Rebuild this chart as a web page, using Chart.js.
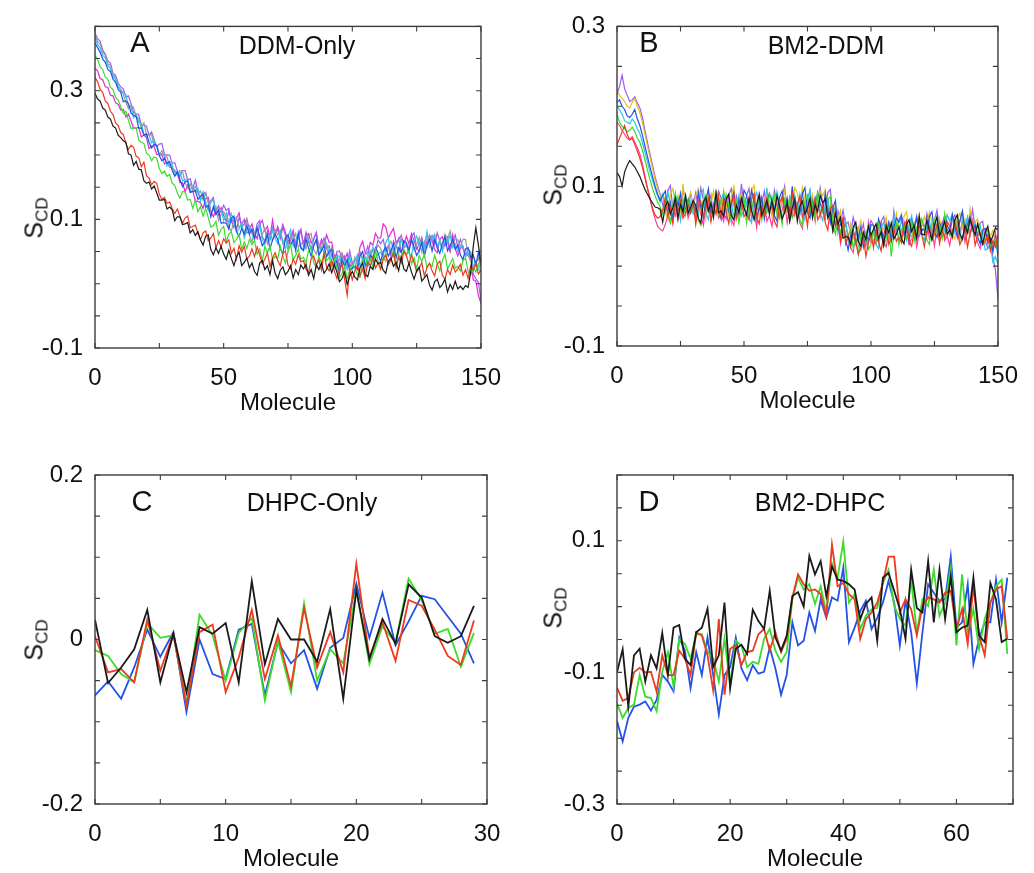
<!DOCTYPE html>
<html>
<head>
<meta charset="utf-8">
<script src="https://cdn.jsdelivr.net/npm/chart.js@4.4.1/dist/chart.umd.min.js"></script>
<style>
html,body{margin:0;padding:0;background:#fff;}
body{width:1034px;height:873px;position:relative;overflow:hidden;font-family:"Liberation Sans",Arial,Helvetica,sans-serif;color:#111;}
canvas{position:absolute;}
.t{position:absolute;transform:translate(-50%,-50%);white-space:nowrap;line-height:1;}
.let{font-size:29px;}
.nm{font-size:25px;}
.yl{position:absolute;transform:translate(-50%,-50%) rotate(-90deg);font-size:25px;white-space:nowrap;line-height:1;}
.yl sub{font-size:17px;vertical-align:-0.3em;}
</style>
</head>
<body>
<canvas id="cA" width="517" height="437" style="left:0px;top:0px"></canvas>
<canvas id="cB" width="517" height="437" style="left:517px;top:0px"></canvas>
<canvas id="cC" width="517" height="437" style="left:0px;top:437px"></canvas>
<canvas id="cD" width="517" height="437" style="left:517px;top:437px"></canvas>

<div class="t let" style="left:140px;top:42px">A</div>
<div class="t nm" style="left:297px;top:45px">DDM-Only</div>
<div class="t let" style="left:649px;top:42px">B</div>
<div class="t nm" style="left:826px;top:45px">BM2-DDM</div>
<div class="t let" style="left:142px;top:501px">C</div>
<div class="t nm" style="left:312px;top:502px">DHPC-Only</div>
<div class="t let" style="left:649px;top:501px">D</div>
<div class="t nm" style="left:820px;top:502px">BM2-DHPC</div>

<div class="yl" style="left:36px;top:218px">S<sub>CD</sub></div>
<div class="yl" style="left:555px;top:185px">S<sub>CD</sub></div>
<div class="yl" style="left:36px;top:640px">S<sub>CD</sub></div>
<div class="yl" style="left:555px;top:608px">S<sub>CD</sub></div>

<script>
// ---------------- Panel A: DDM-Only (molecule index 0..150) ----------------
const A_BLACK=[.296,.287,.284,.273,.27,.259,.256,.245,.242,.231,.227,
.222,.22,.202,.2,.184,.19,.178,.177,.16,.156,
.158,.147,.152,.141,.13,.13,.131,.116,.119,.115,
.098,.104,.104,.092,.093,.095,.079,.084,.075,.081,
.068,.06,.074,.076,.053,.045,.056,.047,.058,.046,
.038,.052,.039,.028,.042,.049,.028,.033,.04,.025,
.032,.019,.013,.032,.036,.022,.028,.014,.036,.016,
.008,.021,.026,.014,.019,.028,.009,.022,.014,.029,
.023,.03,.013,.022,.008,.029,.022,.032,.016,.022,
.031,.017,.03,.018,.003,.008,.018,-.001,.012,.019,
.01,.006,.025,.032,.014,.011,.027,.022,.038,.031,
.033,.021,.016,.035,.04,.027,.033,.02,.042,.023,
.019,.032,.018,.007,.02,.026,.004,.009,.014,-.002,
-.01,.003,.007,-.006,-.001,.007,-.013,-.001,-.009,.004,
-.008,-.004,-.009,-.003,-.006,.018,.058,.087,.06,.032];
const A_RED=[.321,.314,.302,.297,.284,.28,.268,.263,.25,.246,.235,
.232,.218,.209,.215,.212,.198,.196,.182,.189,.168,
.164,.154,.159,.156,.139,.131,.134,.125,.127,.117,
.109,.116,.105,.094,.102,.105,.087,.089,.091,.078,
.068,.079,.082,.067,.071,.078,.056,.067,.057,.07,
.063,.068,.047,.055,.038,.059,.049,.058,.038,.043,
.054,.042,.057,.045,.031,.038,.048,.027,.04,.048,
.036,.028,.047,.051,.029,.023,.038,.03,.045,.034,
.036,.022,.017,.039,.043,.029,.037,.021,.047,.026,
.02,.036,.02,.008,.021,.03,.007,-.018,.022,.006,
.02,.029,.012,.023,.008,.034,.028,.042,.024,.032,
.022,.038,.044,.03,.037,.048,.025,.041,.032,.05,
.044,.03,.045,.033,.018,.024,.033,.012,.025,.032,
.02,.012,.031,.035,.013,.007,.022,.014,.029,.018,
.023,.03,.013,.022,.008,.028,.021,.032,.015,.021];
const A_GREEN=[.355,.349,.337,.333,.321,.318,.305,.302,.29,.286,.275,
.265,.268,.254,.241,.243,.242,.223,.22,.218,.203,
.2,.191,.197,.195,.179,.171,.175,.167,.17,.156,
.153,.141,.133,.143,.143,.13,.131,.117,.13,.112,
.12,.105,.117,.103,.088,.09,.097,.075,.085,.089,
.065,.077,.081,.064,.069,.077,.053,.065,.055,.069,
.061,.067,.046,.054,.035,.058,.048,.059,.037,.042,
.039,.058,.043,.032,.05,.061,.037,.044,.054,.038,
.041,.032,.052,.057,.032,.026,.042,.032,.048,.036,
.041,.026,.039,.025,.009,.016,.027,.007,.021,.03,
.025,.014,.01,.034,.041,.029,.039,.025,.053,.034,
.024,.04,.046,.032,.039,.051,.028,.045,.036,.054,
.045,.051,.031,.04,.023,.044,.035,.045,.026,.031,
.027,.044,.031,.02,.036,.046,.023,.031,.039,.024,
.027,.02,.036,.04,.019,.013,.026,.018,.031,.021];
const A_BLUE=[.374,.367,.36,.349,.344,.333,.33,.318,.313,.302,.298,
.283,.284,.28,.265,.262,.26,.242,.242,.231,.233,
.22,.211,.217,.215,.199,.191,.195,.187,.19,.176,
.167,.174,.162,.151,.158,.16,.142,.143,.145,.131,
.136,.139,.118,.122,.104,.12,.108,.115,.094,.095,
.094,.085,.102,.105,.081,.073,.086,.077,.09,.077,
.085,.07,.087,.074,.059,.065,.076,.054,.068,.077,
.069,.054,.047,.071,.076,.06,.068,.051,.079,.055,
.052,.07,.055,.043,.059,.069,.044,.051,.059,.042,
.05,.053,.03,.036,.016,.037,.028,.038,.019,.024,
.027,.022,.043,.05,.03,.027,.044,.039,.056,.048,
.034,.05,.057,.043,.051,.062,.04,.056,.048,.067,
.064,.05,.069,.057,.044,.051,.064,.043,.059,.069,
.051,.069,.056,.047,.063,.073,.051,.059,.069,.054,
.06,.045,.037,.054,.056,.041,.045,.029,.049,.027];
const A_CYAN=[.381,.372,.367,.355,.351,.339,.335,.322,.318,.306,.302,
.297,.294,.276,.274,.258,.263,.251,.25,.233,.229,
.231,.219,.223,.212,.2,.199,.2,.183,.186,.185,
.168,.173,.173,.16,.161,.163,.146,.151,.142,.148,
.13,.143,.127,.114,.126,.131,.107,.11,.115,.098,
.11,.095,.109,.096,.08,.085,.094,.071,.083,.09,
.077,.068,.088,.093,.068,.061,.077,.067,.083,.071,
.062,.082,.066,.054,.073,.084,.058,.066,.076,.058,
.051,.064,.069,.053,.059,.067,.045,.057,.049,.063,
.049,.034,.025,.042,.043,.029,.035,.022,.044,.024,
.036,.045,.027,.039,.023,.049,.042,.057,.038,.046,
.049,.042,.064,.071,.047,.042,.06,.052,.069,.059,
.063,.048,.043,.067,.074,.059,.068,.052,.081,.058,
.069,.075,.056,.066,.05,.072,.063,.075,.056,.062,
.049,.058,.059,.043,.045,.049,.026,.035,.023,.018];
const A_GRAY=[.386,.376,.373,.36,.355,.342,.339,.325,.321,.307,.301,
.295,.282,.272,.278,.274,.259,.257,.242,.25,.232,
.232,.231,.215,.214,.2,.207,.197,.197,.182,.18,
.177,.168,.176,.175,.157,.149,.155,.145,.151,.141,
.144,.13,.141,.127,.112,.114,.12,.098,.108,.112,
.104,.088,.081,.101,.103,.087,.093,.075,.099,.076,
.065,.08,.085,.07,.076,.086,.062,.077,.067,.084,
.076,.082,.062,.071,.052,.076,.067,.078,.057,.062,
.063,.054,.074,.078,.053,.046,.062,.052,.067,.055,
.043,.057,.04,.026,.038,.047,.024,.032,.04,.024,
.041,.031,.049,.04,.029,.038,.051,.033,.049,.06,
.055,.04,.035,.059,.066,.052,.06,.045,.073,.051,
.043,.059,.066,.052,.06,.072,.049,.066,.057,.076,
.069,.077,.058,.068,.052,.077,.069,.082,.062,.07,
.068,.057,.069,.069,.044,.034,.043,.031,.04,.026];
const A_PURPLE=[.390,.381,.377,.363,.357,.346,.343,.327,.324,.312,.306,
.303,.290,.292,.280,.266,.264,.263,.246,.247,.245,
.231,.236,.224,.213,.217,.218,.201,.2,.2,.187,
.188,.175,.167,.176,.176,.162,.163,.148,.161,.142,
.130,.140,.142,.126,.129,.134,.112,.121,.111,.122,
.114,.117,.096,.102,.084,.103,.092,.1,.079,.082,
.082,.073,.093,.098,.073,.066,.082,.072,.088,.076,
.085,.07,.088,.075,.061,.067,.079,.057,.072,.081,
.062,.08,.065,.053,.07,.08,.055,.062,.071,.054,
.059,.043,.034,.05,.051,.037,.043,.029,.051,.031,
.024,.041,.049,.037,.046,.058,.039,.055,.05,.068,
.062,.069,.05,.059,.042,.066,.058,.07,.05,.056,
.059,.051,.073,.079,.056,.05,.068,.059,.077,.066,
.075,.061,.079,.067,.053,.06,.072,.051,.066,.076,
.056,.069,.054,.042,.054,.049,.015,.008,.002,-.025];
const A_MAGENTA=[.335,.331,.319,.317,.306,.305,.293,.292,.281,.279,.27,
.271,.259,.264,.253,.242,.242,.243,.228,.231,.227,
.21,.214,.213,.201,.201,.202,.186,.189,.181,.181,
.174,.173,.157,.157,.143,.153,.142,.145,.128,.128,
.126,.117,.132,.134,.112,.104,.116,.106,.118,.106,
.097,.113,.099,.087,.102,.11,.087,.093,.101,.084,
.093,.077,.07,.093,.098,.082,.089,.072,.099,.075,
.089,.075,.092,.08,.065,.071,.083,.061,.076,.085,
.059,.074,.078,.063,.069,.079,.055,.069,.059,.076,
.064,.065,.042,.046,.026,.047,.037,.047,.027,.032,
.037,.034,.057,.066,.048,.046,.064,.06,.078,.071,
.071,.093,.088,.071,.079,.086,.064,.069,.075,.06,
.074,.062,.078,.067,.054,.061,.072,.052,.066,.075,
.067,.053,.048,.069,.073,.059,.066,.05,.076,.054,
.043,.055,.057,.043,.046,.04,.006,.004,-.018,-.031];

// ---------------- Panel B: BM2-DDM (molecule index 0..150) ----------------
const B_PURPLE=[.215,.225,.239,.222,.214,.206,.208,.212,.204,.198,.186,.17,.155,.14,.126,.112,.1,.09,
.077,.068,.094,.101,.071,.063,.085,.074,.095,.082,.072,.091,.076,
.092,.075,.098,.083,.065,.074,.089,.062,.082,.094,
.085,.066,.059,.089,.097,.077,.088,.068,.103,.074,
.088,.097,.071,.083,.06,.091,.078,.094,.068,.075,
.071,.095,.077,.063,.086,.1,.069,.08,.092,.072,
.062,.083,.091,.072,.082,.095,.066,.086,.075,.098,
.077,.068,.092,.096,.063,.051,.069,.054,.07,.052,
.055,.041,.061,.048,.032,.04,.053,.029,.046,.057,
.051,.035,.03,.056,.062,.046,.055,.038,.069,.045,
.058,.065,.043,.054,.034,.06,.05,.063,.041,.047,
.045,.066,.05,.039,.058,.07,.044,.053,.063,.046,
.039,.058,.064,.048,.056,.068,.043,.06,.051,.071,
.048,.04,.054,.056,.032,.022,.028,.011,-.005,-.041];
const B_YELLOW=[.219,.214,.21,.206,.2,.198,.205,.21,.2,.192,.18,.165,.15,.136,.122,.108,.097,.088,
.09,.066,.059,.089,.097,.077,.088,.068,.103,.074,.083,.092,.073,
.088,.097,.071,.083,.06,.091,.078,.094,.068,.075,
.071,.095,.077,.063,.086,.1,.069,.08,.092,.072,
.077,.068,.094,.101,.071,.063,.085,.074,.095,.082,
.062,.083,.091,.072,.082,.095,.066,.086,.075,.098,
.092,.075,.098,.083,.065,.074,.089,.062,.082,.094,
.088,.096,.068,.077,.05,.077,.059,.07,.038,.04,
.032,.053,.037,.026,.045,.057,.031,.04,.05,.033,
.029,.049,.055,.04,.048,.061,.036,.054,.046,.066,
.047,.04,.062,.068,.042,.036,.054,.045,.063,.051,
.062,.048,.068,.055,.039,.047,.06,.036,.053,.064,
.056,.04,.034,.06,.066,.049,.059,.042,.072,.047,
.055,.059,.04,.046,.029,.047,.037,.045,.025,.028];
const B_BLUE=[.205,.208,.2,.196,.188,.186,.19,.196,.184,.176,.164,.15,.137,.124,.112,.1,.09,.082,
.088,.094,.068,.08,.057,.088,.075,.091,.065,.072,.083,.067,.081,
.068,.092,.074,.06,.083,.097,.066,.077,.089,.069,
.059,.08,.088,.069,.079,.092,.063,.083,.072,.095,
.089,.072,.095,.08,.062,.071,.086,.059,.079,.091,
.082,.063,.056,.086,.094,.074,.085,.065,.1,.071,
.074,.065,.091,.098,.068,.06,.082,.071,.092,.079,
.068,.091,.071,.054,.073,.082,.046,.052,.059,.034,
.02,.039,.045,.029,.037,.049,.024,.041,.032,.052,
.051,.038,.059,.047,.032,.04,.054,.031,.048,.06,
.055,.062,.04,.051,.031,.057,.047,.06,.038,.044,
.047,.04,.062,.068,.042,.036,.054,.045,.063,.051,
.044,.065,.049,.038,.057,.069,.043,.052,.062,.045,
.051,.036,.028,.045,.047,.031,.035,.018,.036,.012];
const B_CYAN=[.2,.196,.19,.182,.18,.178,.184,.18,.172,.166,.155,.142,.13,.118,.107,.097,.088,.08,
.09,.07,.093,.078,.06,.069,.084,.057,.077,.089,.068,.08,.065,
.072,.063,.089,.096,.066,.058,.08,.069,.09,.077,
.083,.092,.066,.078,.055,.086,.073,.089,.063,.07,
.08,.061,.054,.084,.092,.072,.083,.063,.098,.069,
.087,.07,.093,.078,.06,.069,.084,.057,.077,.089,
.066,.09,.072,.058,.081,.095,.064,.075,.087,.067,
.057,.077,.083,.061,.067,.075,.041,.056,.04,.058,
.031,.024,.046,.052,.026,.02,.038,.029,.047,.035,
.042,.027,.022,.048,.055,.039,.05,.034,.064,.04,
.038,.059,.043,.032,.051,.063,.037,.046,.056,.039,
.032,.051,.057,.041,.049,.061,.036,.053,.044,.064,
.057,.064,.042,.053,.033,.059,.049,.062,.04,.046,
.054,.039,.05,.036,.02,.022,.028,.005,.012,.002];
const B_GREEN=[.19,.18,.175,.172,.168,.17,.174,.168,.16,.155,.145,.133,.12,.108,.097,.088,.08,.074,
.065,.087,.069,.055,.078,.092,.061,.072,.084,.064,.081,.067,.075,
.077,.058,.051,.081,.089,.069,.08,.06,.095,.066,
.084,.067,.09,.075,.057,.066,.081,.054,.074,.086,
.054,.075,.083,.064,.074,.087,.058,.078,.067,.09,
.08,.089,.063,.075,.052,.083,.07,.086,.06,.067,
.077,.058,.051,.081,.089,.069,.08,.06,.095,.066,
.069,.059,.083,.087,.053,.04,.057,.041,.057,.039,
.038,.045,.023,.034,.014,.04,.03,.043,.021,.027,
.045,.032,.053,.04,.025,.034,.048,.012,.042,.054,
.027,.046,.052,.036,.044,.056,.031,.048,.039,.059,
.049,.033,.027,.053,.059,.042,.052,.035,.065,.04,
.043,.036,.058,.064,.038,.032,.05,.041,.059,.047,
.038,.052,.038,.027,.04,.046,.024,.028,.034,.018];
const B_PINK=[.18,.176,.17,.165,.16,.158,.162,.155,.148,.14,.128,.113,.098,.084,.07,.059,.05,.046,
.044,.052,.063,.054,.065,.078,.057,.073,.064,.082,.06,.071,.077,
.059,.083,.065,.051,.074,.088,.057,.068,.08,.06,
.065,.056,.082,.089,.059,.051,.073,.062,.083,.07,
.076,.085,.059,.071,.048,.079,.066,.082,.056,.063,
.05,.071,.079,.06,.07,.083,.054,.074,.063,.086,
.073,.054,.047,.077,.085,.065,.076,.056,.091,.062,
.08,.061,.082,.064,.043,.048,.059,.028,.044,.052,
.039,.023,.017,.043,.049,.032,.042,.025,.055,.03,
.033,.027,.049,.055,.03,.024,.042,.034,.053,.041,
.05,.036,.056,.043,.027,.035,.048,.024,.041,.052,
.049,.056,.034,.045,.025,.051,.041,.054,.032,.038,
.026,.045,.051,.035,.043,.055,.03,.047,.038,.058,
.043,.029,.022,.04,.043,.028,.034,.02,.042,.021];
const B_RED=[.152,.16,.168,.176,.165,.158,.16,.152,.144,.135,.124,.11,.097,.085,.072,.064,.06,.062,
.071,.084,.062,.073,.053,.079,.069,.082,.06,.066,.076,.067,.081,
.052,.073,.081,.062,.072,.085,.056,.076,.065,.088,
.061,.085,.067,.053,.076,.09,.059,.07,.082,.062,
.067,.058,.084,.091,.061,.053,.075,.064,.085,.072,
.075,.056,.049,.079,.087,.067,.078,.058,.093,.064,
.078,.087,.061,.073,.05,.081,.068,.084,.058,.065,
.075,.054,.045,.072,.076,.051,.057,.032,.062,.028,
.038,.024,.044,.031,.015,.023,.036,.012,.029,.04,
.023,.045,.03,.019,.039,.052,.027,.036,.047,.031,
.036,.029,.051,.057,.031,.025,.043,.034,.052,.04,
.024,.043,.049,.033,.041,.053,.028,.045,.036,.056,
.05,.036,.056,.043,.027,.035,.048,.024,.041,.052,
.026,.038,.041,.027,.031,.039,.019,.032,.024,.039];
const B_BLACK=[.117,.112,.1,.118,.126,.132,.128,.124,.118,.112,.104,.096,.09,.084,.079,.074,.073,.071,
.055,.075,.081,.065,.073,.085,.06,.077,.068,.088,.066,.074,.082,
.076,.06,.054,.08,.086,.069,.079,.062,.092,.067,
.069,.062,.084,.09,.064,.058,.076,.067,.085,.073,
.064,.085,.069,.058,.077,.089,.063,.072,.082,.065,
.082,.068,.088,.075,.059,.067,.08,.056,.073,.084,
.056,.075,.081,.065,.073,.085,.06,.077,.068,.088,
.079,.084,.06,.068,.044,.066,.052,.061,.035,.037,
.036,.028,.049,.055,.031,.025,.042,.033,.05,.039,
.046,.053,.034,.043,.026,.05,.042,.054,.034,.04,
.049,.034,.028,.052,.058,.043,.051,.035,.063,.04,
.039,.058,.044,.033,.051,.062,.038,.046,.056,.04,
.045,.037,.058,.064,.04,.034,.051,.042,.059,.048,
.039,.053,.039,.028,.042,.05,.03,.038,.048,.045];

// ---------------- Panel C: DHPC-Only (molecule index 0..29) ----------------
const C_BLACK=[.024,-.053,-.034,-.012,.036,-.052,.007,-.064,.015,.007,.02,-.052,.071,-.03,.025,0,0,-.027,.037,-.072,.06,-.024,.025,-.005,.067,.051,.004,-.004,.004,.041];
const C_RED=[.004,-.04,-.036,-.052,.024,-.038,.007,-.08,.009,.018,-.064,-.022,.036,-.048,.005,-.057,.038,-.034,.009,-.04,.092,-.022,.021,-.026,.048,.041,.012,-.02,-.031,.023];
const C_GREEN=[-.013,-.02,-.042,-.052,.02,.002,.005,-.078,.03,.005,-.05,.008,.026,-.074,-.002,-.064,.044,-.05,-.012,-.029,.06,-.03,.016,-.004,.074,.048,.007,.013,-.033,.008];
const C_BLUE=[-.068,-.051,-.072,-.034,.012,-.021,.009,-.088,0,-.042,-.048,.012,.019,-.068,-.003,-.029,-.013,-.06,-.01,.002,.068,.002,.057,-.007,.022,.053,.049,.028,.007,-.029];

// ---------------- Panel D: BM2-DHPC (molecule index 0..69) ----------------
const D_BLACK=[-.1,-.065,-.152,-.074,-.064,-.114,-.074,-.094,-.04,-.104,
-.032,-.028,-.079,-.089,-.039,-.032,-.003,-.092,-.074,.006,
-.124,-.064,-.058,-.072,-.005,-.022,-.034,.024,-.047,-.067,
-.044,.016,.022,0,.077,.049,.069,.016,.061,.041,
.039,.034,.026,-.019,.004,.014,-.052,.044,.051,.024,
-.004,-.049,.056,-.002,-.009,.069,-.024,.056,-.019,.046,
-.039,-.032,-.029,.044,-.044,-.054,.036,.011,-.054,-.049];
const D_RED=[-.123,-.143,-.139,-.1,-.093,-.1,-.099,-.129,-.074,-.104,
-.104,-.067,-.079,-.104,-.039,-.044,-.074,-.127,-.019,-.134,
-.064,-.059,-.089,-.069,-.067,-.042,-.034,-.067,-.039,-.069,
-.049,.014,.049,.034,.024,.026,.019,-.014,.094,.031,
.036,.019,.011,-.049,-.019,-.009,.006,.036,.076,.076,
-.009,.011,-.004,-.044,.001,.014,.011,.006,.021,.024,
-.034,-.004,-.057,.031,-.044,-.074,.006,.026,.031,-.049];
const D_GREEN=[-.147,-.169,-.154,-.149,-.104,-.137,-.139,-.159,-.099,-.069,
-.122,-.049,-.057,-.079,-.042,-.042,-.069,-.079,-.114,-.049,
-.119,-.052,-.059,-.092,-.084,-.087,-.049,-.034,-.067,-.084,
-.069,.011,.044,.026,.034,.004,.031,-.009,.066,.044,
.099,.006,.019,-.034,-.014,-.004,-.002,.036,.056,.001,
-.019,-.029,.041,-.039,.011,.001,.056,-.014,.006,.059,
-.059,.049,-.044,-.004,-.064,-.019,.006,.031,.041,-.072];
const D_BLUE=[-.174,-.205,-.169,-.152,-.149,-.144,-.158,-.142,-.104,-.114,
-.129,-.047,-.067,-.124,-.069,-.104,-.047,-.104,-.164,-.104,
-.092,-.047,-.094,-.112,-.089,-.102,-.099,-.062,-.094,-.134,
-.104,-.024,-.059,-.052,-.009,-.037,.011,-.017,.014,.009,
.059,-.054,-.032,-.007,.009,-.034,-.017,.006,.039,.006,
-.059,.009,-.039,-.117,-.039,.034,.021,.009,.011,.076,
-.032,-.024,.034,-.087,-.049,-.024,-.024,.041,-.024,.044];

// ---------------- Tick labels ----------------
const A_XLABELS=[0,50,100,150], A_YLABELS=[-0.1,0.1,0.3];
const B_XLABELS=[0,50,100,150], B_YLABELS=[-0.1,0.1,0.3];
const C_XLABELS=[0,10,20,30],  C_YLABELS=[-0.2,0,0.2];
const D_XLABELS=[0,20,40,60],  D_YLABELS=[-0.3,-0.1,0.1];
const X_TITLE='Molecule';

const COL={black:'#1a1a1a',red:'#ee3a1e',green:'#3bdc2c',blue:'#2452e6',cyan:'#2cc6ea',
  magenta:'#e22ad8',purple:'#9d5cf0',gray:'#9a9a9a',yellow:'#e2c21c',pink:'#ff3d9c'};

const FONT='"Liberation Sans", Arial, sans-serif';

const framePlugin={
  id:'frame',
  afterDatasetsDraw(chart){
    const {ctx,chartArea:a,scales:{x,y}}=chart;
    ctx.save();
    ctx.strokeStyle='#3c3c3c';ctx.lineWidth=1.4;
    ctx.strokeRect(a.left,a.top,a.right-a.left,a.bottom-a.top);
    ctx.lineWidth=1.1;ctx.beginPath();
    x.ticks.forEach(t=>{const p=x.getPixelForValue(t.value);
      ctx.moveTo(p,a.bottom);ctx.lineTo(p,a.bottom-5);ctx.moveTo(p,a.top);ctx.lineTo(p,a.top+5);});
    y.ticks.forEach(t=>{const p=y.getPixelForValue(t.value);
      ctx.moveTo(a.left,p);ctx.lineTo(a.left+5,p);ctx.moveTo(a.right,p);ctx.lineTo(a.right-5,p);});
    ctx.stroke();ctx.restore();
  }
};

function labelCb(list){
  return function(v){const m=list.find(l=>Math.abs(l-v)<1e-6);return m===undefined?'':String(m);};
}

function makeChart(id,series,g){
  new Chart(document.getElementById(id),{
    type:'line',
    data:{datasets:series.map(s=>({
      data:s[0].map((v,i)=>({x:i,y:v})),
      borderColor:s[1],borderWidth:g.lw,pointRadius:0,tension:0,fill:false}))},
    options:{
      responsive:false,animation:false,devicePixelRatio:1,events:[],
      layout:{padding:g.pad},
      plugins:{legend:{display:false},tooltip:{enabled:false}},
      scales:{
        x:{type:'linear',min:g.x[0],max:g.x[1],
          grid:{display:false,drawTicks:false},border:{display:false},
          ticks:{stepSize:g.x[2],autoSkip:false,maxRotation:0,padding:16,color:'#111',
            font:{family:FONT,size:24},callback:labelCb(g.xl)},
          title:{display:true,text:X_TITLE,color:'#111',font:{family:FONT,size:24},padding:{top:0,bottom:0}},
          afterFit:s=>{s.height=70;}},
        y:{type:'linear',min:g.y[0],max:g.y[1],
          grid:{display:false,drawTicks:false},border:{display:false},
          ticks:{stepSize:g.y[2],autoSkip:false,padding:12,color:'#111',
            font:{family:FONT,size:24},callback:labelCb(g.yl)},
          afterFit:s=>{s.width=60;}}
      }
    },
    plugins:[framePlugin]
  });
}

makeChart('cA',[[A_BLACK,COL.black],[A_RED,COL.red],[A_GREEN,COL.green],[A_BLUE,COL.blue],
  [A_CYAN,COL.cyan],[A_GRAY,COL.gray],[A_PURPLE,COL.purple],[A_MAGENTA,COL.magenta]],
  {lw:1.2,pad:{left:35,right:28,top:20,bottom:19},x:[0,150,25],y:[-0.1,0.4,0.05],xl:A_XLABELS,yl:A_YLABELS});
makeChart('cB',[[B_BLACK,COL.black],[B_RED,COL.red],[B_GREEN,COL.green],[B_BLUE,COL.blue],
  [B_CYAN,COL.cyan],[B_YELLOW,COL.yellow],[B_PINK,COL.pink],[B_PURPLE,COL.purple]],
  {lw:1.2,pad:{left:40,right:21,top:20,bottom:21},x:[0,150,25],y:[-0.1,0.3,0.05],xl:B_XLABELS,yl:B_YLABELS});
makeChart('cC',[[C_BLACK,COL.black],[C_RED,COL.red],[C_GREEN,COL.green],[C_BLUE,COL.blue]],
  {lw:1.8,pad:{left:35,right:30,top:38,bottom:0},x:[0,30,5],y:[-0.2,0.2,0.05],xl:C_XLABELS,yl:C_YLABELS});
makeChart('cD',[[D_BLACK,COL.black],[D_RED,COL.red],[D_GREEN,COL.green],[D_BLUE,COL.blue]],
  {lw:1.8,pad:{left:40,right:21,top:38,bottom:0},x:[0,70,10],y:[-0.3,0.2,0.05],xl:D_XLABELS,yl:D_YLABELS});
</script>
</body>
</html>
